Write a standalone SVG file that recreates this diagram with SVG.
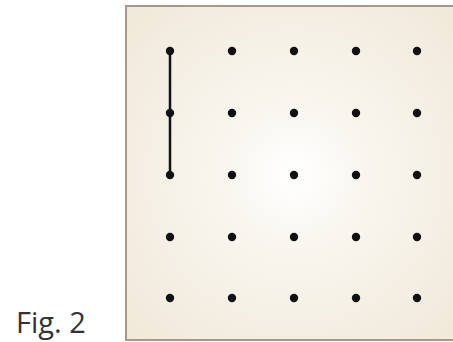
<svg xmlns="http://www.w3.org/2000/svg" width="453" height="342" viewBox="0 0 453 342">
<defs>
<radialGradient id="bg" cx="294" cy="175" r="240" gradientUnits="userSpaceOnUse">
<stop offset="0" stop-color="#ffffff"/>
<stop offset="0.3" stop-color="#f9f6ef"/>
<stop offset="1" stop-color="#f0e8d8"/>
</radialGradient>
<style>
.dot{fill:#111;}
.edge{stroke:#111;stroke-width:2.5;fill:none;}
.lbl{font-family:"Open Sans","Noto Sans",sans-serif;font-size:29px;fill:#333;}
</style>
</defs>
<rect width="453" height="342" fill="#ffffff"/>
<g id="panel">
<rect x="126" y="6" width="328" height="334" fill="url(#bg)" stroke="#ab978a" stroke-width="2"/>
</g>
<g id="connectors">
<line class="edge" x1="170" y1="51" x2="170" y2="175"/>
</g>
<g id="dots">
<g id="r1"><circle class="dot" cx="170" cy="51" r="4.2"/><circle class="dot" cx="232" cy="51" r="4.2"/><circle class="dot" cx="294" cy="51" r="4.2"/><circle class="dot" cx="356" cy="51" r="4.2"/><circle class="dot" cx="417" cy="51" r="4.2"/></g>
<g id="r2"><circle class="dot" cx="170" cy="113" r="4.2"/><circle class="dot" cx="232" cy="113" r="4.2"/><circle class="dot" cx="294" cy="113" r="4.2"/><circle class="dot" cx="356" cy="113" r="4.2"/><circle class="dot" cx="417" cy="113" r="4.2"/></g>
<g id="r3"><circle class="dot" cx="170" cy="175" r="4.2"/><circle class="dot" cx="232" cy="175" r="4.2"/><circle class="dot" cx="294" cy="175" r="4.2"/><circle class="dot" cx="356" cy="175" r="4.2"/><circle class="dot" cx="417" cy="175" r="4.2"/></g>
<g id="r4"><circle class="dot" cx="170" cy="237" r="4.2"/><circle class="dot" cx="232" cy="237" r="4.2"/><circle class="dot" cx="294" cy="237" r="4.2"/><circle class="dot" cx="356" cy="237" r="4.2"/><circle class="dot" cx="417" cy="237" r="4.2"/></g>
<g id="r5"><circle class="dot" cx="170" cy="298" r="4.2"/><circle class="dot" cx="232" cy="298" r="4.2"/><circle class="dot" cx="294" cy="298" r="4.2"/><circle class="dot" cx="356" cy="298" r="4.2"/><circle class="dot" cx="417" cy="298" r="4.2"/></g>
</g>
<g id="caption">
<text class="lbl" x="16" y="333">Fig. 2</text>
</g>
</svg>
